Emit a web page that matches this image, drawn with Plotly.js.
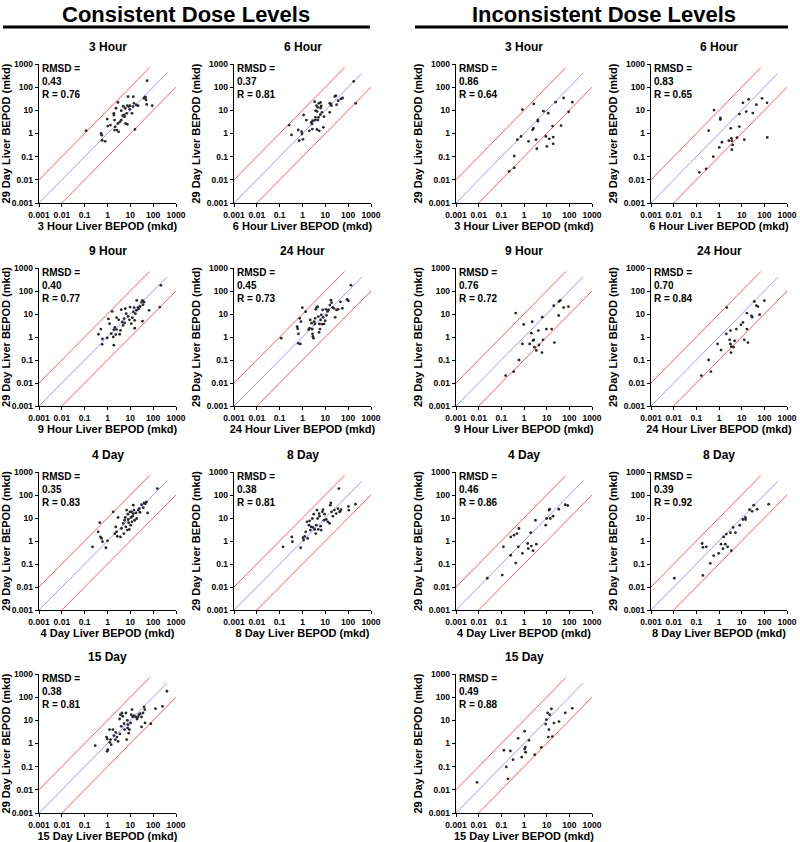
<!DOCTYPE html>
<html>
<head>
<meta charset="utf-8">
<script src="https://cdn.plot.ly/plotly-3.0.1.min.js"></script>
<style>html,body{margin:0;padding:0;background:#fff;}#chart{width:800px;height:842px;}</style>
</head>
<body>
<div id="chart"></div>
<script>
// ---------- DATA ----------
const panelTitles = ['3 Hour', '6 Hour', '9 Hour', '24 Hour', '4 Day', '8 Day', '15 Day'];
const groupTitles = ['Consistent Dose Levels', 'Inconsistent Dose Levels'];
const yAxisTitle = '29 Day Liver BEPOD (mkd)';
const tickVals = [0.001, 0.01, 0.1, 1, 10, 100, 1000];
const tickText = ['0.001', '0.01', '0.1', '1', '10', '100', '1000'];

const consRMSD = ['0.43', '0.37', '0.40', '0.45', '0.35', '0.38', '0.38'];
const consR    = ['0.76', '0.81', '0.77', '0.73', '0.83', '0.81', '0.81'];
const incRMSD  = ['0.86', '0.83', '0.76', '0.70', '0.46', '0.39', '0.49'];
const incR     = ['0.64', '0.65', '0.72', '0.84', '0.86', '0.92', '0.88'];

// reference lines: identity, +1 log, -1 log
const identityX = [0.001, 400];  const identityY = [0.001, 400];
const upperX = [0.001, 70];      const upperY = [0.01, 700];
const lowerX = [0.01, 1000];     const lowerY = [0.001, 100];

// Consistent dose levels
const cons3h_x = [0.115,54,2.87,16,0.56,0.52,0.58,0.79,0.97,1.03,1.35,2.04,1.9,1.9,2.18,2.04,2.6,2.87,3.07,3.5,4.0,4.6,4.9,5.3,5.6,6.0,6.9,7.4,6.2,7.4,7.9,8.5,9.7,9.4,11.8,13.5,13.1,14.5,18.4,21.8,40,43,46,49,52,91,2.34,4.0];
const cons3h_y = [1.32,189,22,1.5,0.85,1.0,0.51,0.46,4.2,2.1,2.3,3.8,7.4,6.3,1.95,1.4,1.4,2.7,1.18,3.2,3.8,5.9,15,6.3,5.3,12.3,7.4,15.9,2.7,2.5,39,14.5,15.9,11,7.4,39,14.5,20,17,15.9,33,37,37,28,18,15.9,12.3,9.7];

const cons6h_x = [0.26,0.33,0.65,0.72,0.92,0.95,1.05,1.12,2.4,2.6,2.7,2.8,3.4,3.6,3.8,4.1,4.3,4.7,5.0,5.2,5.4,6.0,6.2,6.2,6.6,7.1,8.2,8.7,4.4,3.7,4.7,15.6,17.3,18.5,26,29,31,36.5,48,57,175,215,2.0,1.48,15.6];
const cons6h_y = [2.3,0.87,1.42,0.49,1.2,0.95,0.56,6.3,3.0,2.6,1.56,3.6,23.7,3.8,9.7,16,1.5,13.5,5.0,20,1.3,6.5,12.6,22,15.4,8.2,1.85,5.3,8.8,5.0,3.8,8.2,18.8,16,40,43,17.6,26,31,34,178,20,1.3,3.8,20];

const cons9h_x = [0.4,0.51,0.58,0.6,0.97,1.1,1.23,1.45,1.6,1.9,1.78,1.9,2.1,2.3,2.5,3.1,3.4,3.7,4.0,4.4,4.8,5.3,5.6,6.0,6.6,7.9,9.1,9.7,11,12.3,13.5,14.5,15.5,15.5,16.6,18.4,19,21.8,23,27,31,34,36,34,40,66,196,218,2.5];
const cons9h_y = [1.32,2.2,0.48,0.82,0.91,6.1,3.8,1.4,13,0.44,1.0,2.1,2.6,1.27,2.1,5.6,1.32,1.95,15.4,4.5,3.2,6.3,4.1,17,10.3,7.9,5.6,20,3.8,6.9,12.3,19,5.3,2.4,10.3,14.5,39,19,16.5,21.5,33,39,25.5,4.9,33,14.5,20,176,6.9];

const cons24h_x = [0.117,0.58,0.62,0.66,0.66,0.8,0.75,0.86,0.98,1.37,1.85,2.04,2.18,2.49,2.66,2.75,2.84,3.03,3.24,3.46,3.58,3.82,4.21,4.64,4.95,5.29,5.46,5.83,6.23,6.65,7.1,7.59,8.1,8.66,9.9,11.3,12.6,13.8,15.8,17.6,18.8,20.8,23.6,27.1,30.9,36.4,45.9,55.8,89,102,133,10.6];
const cons24h_y = [0.89,2.8,2.3,1.37,0.53,0.5,6.5,4.7,18.8,12.6,2.1,2.4,5.5,4.0,2.2,1.37,1.05,0.89,4.7,3.7,6.5,16,19.5,20.8,7.7,1.6,3.7,2.2,5.5,9.1,3.6,15,7.2,3.7,5.1,8.8,13,15,24.5,40,31,19.5,17.6,7.2,15,16,34,17.6,43,37.6,179,16];

const cons4d_x = [0.22,0.39,0.46,0.49,0.55,0.6,0.85,1.0,1.78,2.1,2.3,2.5,2.7,2.9,3.7,4.1,4.9,5.2,5.6,6.0,6.4,6.9,7.4,7.8,8.1,8.4,9.0,9.6,10.3,10.6,11.4,11.8,12.6,13.5,14.4,15.4,17.7,19,22.3,24.6,26.4,31,37,40,45,51,57,152,13.5];
const cons4d_y = [0.56,2.5,6.3,1.5,1.3,0.93,0.51,1.02,18.5,2.1,4.1,2.5,1.6,10.5,1.5,3.5,5.8,2.1,8.0,10.5,4.1,22,3.0,14.6,8.6,6.2,3.2,18.5,4.9,10.5,18.5,6.8,12,15.6,22,8.0,16.7,9.5,22,25.7,17.8,38,28,45,42,50,16.7,190,36];

const cons8d_x = [0.14,0.34,0.36,0.83,1.05,1.12,1.25,1.38,1.58,1.69,1.92,2.05,2.2,2.4,2.7,2.9,3.1,3.4,3.8,4.0,4.3,4.6,4.9,5.3,5.6,6.2,6.6,7.4,7.9,8.7,9.3,11,13,15.4,16.5,17.5,18.8,21.5,25,30,35.5,42,39,45,103,107,209,49];
const cons8d_y = [0.56,1.5,0.93,0.51,1.4,1.1,1.6,2.5,6.8,1.3,4.9,7.5,3.0,4.1,9.5,3.9,14.6,3.2,2.1,4.9,22,9.5,3.2,15.6,12,4.4,3.0,18.5,23,8.0,14.6,8.6,6.8,5.8,36,45,18.5,12,22,15.6,25.7,18.5,190,20,32,22,40,23];

const cons15d_x = [0.29,0.91,0.97,0.97,1.03,1.23,1.26,1.35,1.45,1.72,1.9,2.2,2.3,2.6,2.9,3.4,3.5,3.7,4.0,4.3,4.6,5.3,5.6,6.4,6.9,7.4,7.6,7.9,8.5,9.1,10.3,11,11.8,12.6,14.5,17.2,19.6,21.7,24,27,31,31,36,40,43,44,79,126,257,400];
const cons15d_y = [0.81,1.9,1.56,0.46,0.54,4.0,1.12,1.47,0.89,4.0,2.2,1.47,3.0,1.9,1.24,11.4,2.6,17.6,5.5,20.7,15,7.2,4.0,20.7,1.47,10,4.7,6.5,2.8,4.0,7.7,17.6,29,14,16,14,11.4,14,17.6,19.4,14,5.2,20.7,38,29,7.7,7.2,32,40,180];

// Inconsistent dose levels
const inc3h_x = [0.22,0.37,0.37,0.51,0.74,0.85,1.58,2.4,2.6,2.7,3.4,3.7,4.1,4.1,7.2,9.2,10.2,11.7,13,18.2,19.5,19.5,24.7,43,56,93,135];
const inc3h_y = [0.023,0.033,0.107,0.54,0.75,10.8,0.46,1.44,1.7,19,0.54,0.22,3.9,3.4,9.2,0.75,0.28,7.5,0.59,2.1,0.7,0.36,22.5,2.2,34,8.6,22.5];

const inc6h_x = [0.135,0.27,0.56,0.6,0.35,1.03,1.15,1.15,1.35,2.7,3.3,3.5,3.7,3.7,4.0,6.2,7.9,7.9,11.4,13,16,20.4,31,44.5,79,131,135];
const inc6h_y = [0.021,0.03,0.1,10.3,1.33,0.25,4.0,4.7,0.42,0.49,1.67,0.62,0.49,0.2,0.32,0.66,2.0,6.9,21,0.54,8.8,30,7.6,17.5,33,21,0.68];

const inc9h_x = [0.155,0.35,0.43,0.6,0.85,0.97,1.78,2.1,2.3,2.5,2.7,2.9,3.5,4.3,4.6,6.2,6.4,6.9,9.7,16.6,20.4,21.8,34,35,40,56,91];
const inc9h_y = [0.021,0.031,11,0.1,0.5,3.5,0.5,1.47,4.6,0.7,0.75,0.36,0.26,1.9,0.45,0.21,7.3,0.75,2.2,2.2,23,0.57,8.6,35,39,19,21];

const inc24h_x = [0.166,0.35,0.44,0.87,1.23,2.1,2.2,2.95,3.2,3.2,3.5,3.4,4.4,4.9,5.8,9.3,11.4,13,17,19,17,27,29,36,44.5,52,62,100];
const inc24h_y = [0.021,0.1,0.031,0.5,0.27,1.37,19,0.75,1.9,0.5,0.38,0.21,0.36,0.68,2.2,3.4,4.3,0.75,2.2,0.57,11,8.3,7.3,35,23,21,9.3,38];

const inc4d_x = [0.024,0.11,0.123,0.26,0.26,0.36,0.43,0.49,0.56,0.6,0.85,1.45,1.55,1.97,2.1,2.5,3.2,3.5,9.1,10,12.6,13.5,14.5,19,34,66,85];
const inc4d_y = [0.024,0.033,0.56,1.5,0.24,1.8,0.11,2.1,0.56,3.5,0.29,0.78,0.47,2.3,0.6,0.38,8,0.73,4.9,9.5,22,24,9.5,12,24,38,35];

const inc8d_x = [0.0107,0.18,0.195,0.195,0.275,0.41,0.58,0.97,1.23,1.5,1.6,1.9,2.1,2.4,3.2,3.5,4.2,5.3,8.2,11.4,14.5,15,22.5,29,34,48,155];
const inc8d_y = [0.024,0.78,0.53,0.032,0.56,0.107,0.23,0.29,0.73,0.46,1.5,0.73,2.0,0.56,2.3,0.38,3.9,2.3,4.9,8.6,10.5,8.6,23,19.6,36,24,40];

const inc15d_x = [0.0085,0.13,0.166,0.196,0.25,0.33,0.55,0.79,1.07,1.07,1.15,1.18,1.66,2.95,5.8,9.1,9.7,11,11.8,12.6,13.5,16.2,17.8,21,35,66,135];
const inc15d_y = [0.021,0.51,0.097,0.03,0.48,0.2,1.67,0.26,3.4,0.58,0.7,0.42,1.37,0.33,0.68,6.9,10.7,21,1.9,4.0,17.6,31,2.0,7.6,8.8,21,33];

const consX = [cons3h_x, cons6h_x, cons9h_x, cons24h_x, cons4d_x, cons8d_x, cons15d_x];
const consY = [cons3h_y, cons6h_y, cons9h_y, cons24h_y, cons4d_y, cons8d_y, cons15d_y];
const incX  = [inc3h_x, inc6h_x, inc9h_x, inc24h_x, inc4d_x, inc8d_x, inc15d_x];
const incY  = [inc3h_y, inc6h_y, inc9h_y, inc24h_y, inc4d_y, inc8d_y, inc15d_y];

// ---------- LAYOUT ----------
const W = 800, H = 842;
const FONT = 'Liberation Sans, Arial, Helvetica, sans-serif';
const colPx = [[39, 176], [234, 371], [456, 592], [651, 787]];
const rowPx = [[64, 203], [268, 406], [472, 610], [674, 813]];

const lineTraces = [];
const pointTraces = [];
const layout = {
  width: W, height: H,
  margin: {l: 0, r: 0, t: 0, b: 0},
  paper_bgcolor: '#ffffff', plot_bgcolor: '#ffffff',
  showlegend: false,
  font: {family: FONT, color: '#000'},
  annotations: [], shapes: []
};

let k = 0;
[[consX, consY, consRMSD, consR, 0], [incX, incY, incRMSD, incR, 2]].forEach(([XS, YS, RM, RR, c0]) => {
  for (let i = 0; i < panelTitles.length; i++) {
    k += 1;
    const col = c0 + (i % 2);
    const row = Math.floor(i / 2);
    const xs = k === 1 ? '' : String(k);
    const xa = 'x' + xs, ya = 'y' + xs;
    const cp = colPx[col], rp = rowPx[row];
    const axCommon = {
      type: 'log', range: [-3, 3], autorange: false,
      tickvals: tickVals, ticktext: tickText,
      tickfont: {family: FONT, size: 8.5, weight: 'bold', color: '#000'},
      showline: true, linecolor: '#000', linewidth: 1.3,
      ticks: 'outside', ticklen: 3, tickwidth: 1, tickcolor: '#000',
      showgrid: false, zeroline: false
    };
    layout['xaxis' + xs] = Object.assign({}, axCommon, {
      domain: [cp[0] / W, cp[1] / W], anchor: ya,
      title: {text: panelTitles[i] + ' Liver BEPOD (mkd)', standoff: 3,
              font: {family: FONT, size: 11, weight: 'bold', color: '#000'}}
    });
    layout['yaxis' + xs] = Object.assign({}, axCommon, {
      domain: [1 - rp[1] / H, 1 - rp[0] / H], anchor: xa,
      title: {text: yAxisTitle, standoff: 4,
              font: {family: FONT, size: 11, weight: 'bold', color: '#000'}}
    });
    lineTraces.push({type: 'scatter', x: upperX, y: upperY, xaxis: xa, yaxis: ya, mode: 'lines',
      line: {color: '#ff5c5c', width: 1}});
    lineTraces.push({type: 'scatter', x: identityX, y: identityY, xaxis: xa, yaxis: ya, mode: 'lines',
      line: {color: '#9c9cff', width: 1}});
    lineTraces.push({type: 'scatter', x: lowerX, y: lowerY, xaxis: xa, yaxis: ya, mode: 'lines',
      line: {color: '#ff5c5c', width: 1}});
    pointTraces.push({type: 'scatter', x: XS[i], y: YS[i], xaxis: xa, yaxis: ya, mode: 'markers',
      marker: {size: 2.8, color: '#2a2a2a', symbol: 'circle'}});
    layout.annotations.push({xref: xa + ' domain', yref: ya + ' domain', x: 0.5, y: 1,
      xanchor: 'center', yanchor: 'middle', yshift: 17, showarrow: false,
      text: panelTitles[i], font: {family: FONT, size: 12, weight: 'bold', color: '#000'}});
    layout.annotations.push({xref: xa + ' domain', yref: ya + ' domain', x: 0.01, y: 1.02,
      xanchor: 'left', yanchor: 'top', align: 'left', showarrow: false,
      text: 'RMSD =<br>' + RM[i] + '<br>R = ' + RR[i],
      font: {family: FONT, size: 10, weight: 'bold', color: '#000'}});
  }
});

const headerCenters = [186, 604];
const headerLines = [[3, 370], [415, 788]];
groupTitles.forEach((t, g) => {
  layout.annotations.push({xref: 'paper', yref: 'paper', x: headerCenters[g] / W, y: 1 - 14 / H,
    xanchor: 'center', yanchor: 'middle', showarrow: false, text: t,
    font: {family: FONT, size: 22, weight: 'bold', color: '#000'}});
  layout.shapes.push({type: 'line', xref: 'paper', yref: 'paper',
    x0: headerLines[g][0] / W, x1: headerLines[g][1] / W, y0: 1 - 27 / H, y1: 1 - 27 / H,
    line: {color: '#000', width: 3}});
});

Plotly.newPlot('chart', lineTraces.concat(pointTraces), layout, {displayModeBar: false, staticPlot: true});
</script>
</body>
</html>
